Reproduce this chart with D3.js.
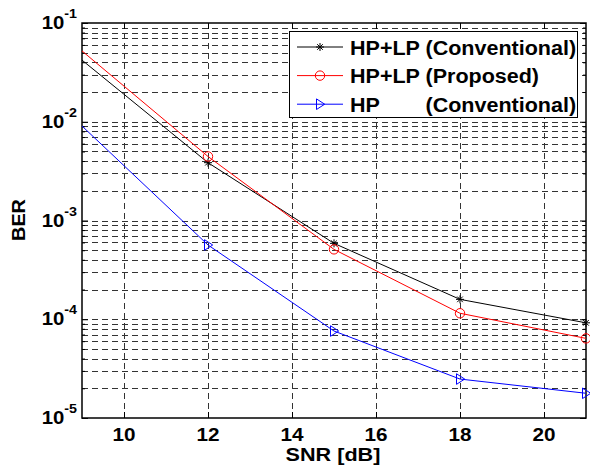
<!DOCTYPE html>
<html><head><meta charset="utf-8">
<script src="https://cdn.jsdelivr.net/npm/d3@7"></script>
<style>
html,body{margin:0;padding:0;background:#fff;}
text{font-family:Arial,"Liberation Sans",Helvetica,sans-serif;font-weight:bold;fill:#000;}
</style></head>
<body><svg id="c" width="590" height="470"></svg>
<script>
// ---- data ----
const snr = [6, 12, 15, 18, 21];
const berConvHPLP = [0.46, 3.85e-3, 5.87e-4, 1.59e-4, 9.2e-5];
const berPropHPLP = [0.61, 4.45e-3, 5.1e-4, 1.15e-4, 6.4e-5];
const berConvHP   = [0.145, 5.65e-4, 7.6e-5, 2.48e-5, 1.78e-5];
const xTicks = [10, 12, 14, 16, 18, 20];
const yDecades = [-5, -4, -3, -2, -1];
const seriesNames = [["HP+LP ", "(Conventional)"], ["HP+LP ", "(Proposed)"], ["HP      ", "(Conventional)"]];
const seriesColors = ["#000000", "#ff0000", "#0000ff"];
const seriesMarkers = ["star", "circle", "triangle"];

const L = 82, T = 23, R = 586, B = 418;
const svg = d3.select("#c");
const x = d3.scaleLinear().domain([9, 21]).range([L, R]);
const y = d3.scaleLog().domain([1e-5, 1e-1]).range([B, T]);

svg.append("rect").attr("x", 0).attr("y", 0).attr("width", 590).attr("height", 470).attr("fill", "#fff");
svg.append("defs").append("clipPath").attr("id", "clip")
  .append("rect").attr("x", L).attr("y", T).attr("width", R - L).attr("height", B - T);

// grid
const minorVals = [];
yDecades.forEach(d => { for (let m = 1; m <= 9; m++) { minorVals.push(m * Math.pow(10, d)); } });
minorVals.push(0.1);
const grid = svg.append("g").attr("stroke", "#333").attr("stroke-width", 1).attr("stroke-dasharray", "6,4").attr("fill", "none");
xTicks.forEach(t => grid.append("line").attr("x1", Math.round(x(t)) + 0.5).attr("x2", Math.round(x(t)) + 0.5).attr("y1", T).attr("y2", B));
minorVals.forEach(v => {
  const yy = Math.round(y(v)) + 0.5;
  if (yy > T + 1 && yy < B - 1) grid.append("line").attr("x1", L).attr("x2", R).attr("y1", yy).attr("y2", yy);
});

// axes via d3 axis (ticks inward)
const xAxisB = d3.axisBottom(x).tickValues(xTicks).tickSizeInner(-6).tickSizeOuter(0).tickFormat("");
const xAxisT = d3.axisTop(x).tickValues(xTicks).tickSizeInner(-6).tickSizeOuter(0).tickFormat("");
svg.append("g").attr("transform", `translate(0,${B})`).call(xAxisB);
svg.append("g").attr("transform", `translate(0,${T})`).call(xAxisT);
const yMinor = minorVals.filter(v => Math.abs(Math.log10(v) - Math.round(Math.log10(v))) > 1e-9);
const yMajor = yDecades.map(d => Math.pow(10, d));
svg.append("g").attr("transform", `translate(${L},0)`).call(d3.axisLeft(y).tickValues(yMajor).tickSizeInner(-6).tickSizeOuter(0).tickFormat(""));
svg.append("g").attr("transform", `translate(${L},0)`).call(d3.axisLeft(y).tickValues(yMinor).tickSizeInner(-3).tickSizeOuter(0).tickFormat(""));
svg.append("g").attr("transform", `translate(${R},0)`).call(d3.axisRight(y).tickValues(yMajor).tickSizeInner(-6).tickSizeOuter(0).tickFormat(""));
svg.append("g").attr("transform", `translate(${R},0)`).call(d3.axisRight(y).tickValues(yMinor).tickSizeInner(-3).tickSizeOuter(0).tickFormat(""));
svg.selectAll(".domain").remove();
svg.selectAll(".tick line").attr("stroke", "#000");

// box
svg.append("rect").attr("x", L).attr("y", T).attr("width", R - L).attr("height", B - T)
  .attr("fill", "none").attr("stroke", "#000").attr("stroke-width", 1.5);

// stretched text helper
function stext(px, py, size, anchor, sx, rot) {
  return svg.append("text").attr("transform", `translate(${px},${py})${rot ? " rotate(" + rot + ")" : ""} scale(${sx},1)`)
    .attr("text-anchor", anchor).attr("font-size", size);
}

// tick labels
xTicks.forEach(t => stext(x(t), 441, 18.5, "middle", 1.12).text(t));
yDecades.forEach(d => {
  const tx = stext(77, y(Math.pow(10, d)) + 6, 18.5, "end", 1.1);
  tx.append("tspan").text("10");
  tx.append("tspan").attr("dy", -11).attr("font-size", 13).text(String(d));
});

// axis labels
stext(333, 461, 18, "middle", 1.2).text("SNR [dB]");
stext(25, 220, 18, "middle", 1.1, -90).text("BER");

// series
const seriesData = [berConvHPLP, berPropHPLP, berConvHP];
const line = d3.line().x(d => x(d[0])).y(d => y(d[1]));
function drawMarker(g, type, cx, cy, color) {
  if (type === "star") {
    const s = 4;
    g.append("path").attr("d", `M${cx - s},${cy}H${cx + s}M${cx},${cy - s}V${cy + s}M${cx - s * 0.7},${cy - s * 0.7}L${cx + s * 0.7},${cy + s * 0.7}M${cx - s * 0.7},${cy + s * 0.7}L${cx + s * 0.7},${cy - s * 0.7}`)
      .attr("stroke", color).attr("stroke-width", 1).attr("fill", "none");
  } else if (type === "circle") {
    g.append("circle").attr("cx", cx).attr("cy", cy).attr("r", 4.7).attr("stroke", color).attr("stroke-width", 1).attr("fill", "none");
  } else {
    g.append("path").attr("d", `M${cx - 3.5},${cy - 5.3}L${cx + 4.7},${cy}L${cx - 3.5},${cy + 5.3}Z`)
      .attr("stroke", color).attr("stroke-width", 1).attr("fill", "none");
  }
}
seriesData.forEach((vals, i) => {
  const pts = snr.map((s, j) => [s, vals[j]]);
  svg.append("path").attr("d", line(pts)).attr("clip-path", "url(#clip)")
    .attr("stroke", seriesColors[i]).attr("stroke-width", 1).attr("fill", "none");
  const g = svg.append("g");
  pts.filter(p => p[0] >= 9 && p[0] <= 21).forEach(p => drawMarker(g, seriesMarkers[i], x(p[0]), y(p[1]), seriesColors[i]));
});

// legend
const lg = svg.append("g");
lg.append("rect").attr("x", 289.5).attr("y", 31.5).attr("width", 288).attr("height", 86)
  .attr("fill", "#fff").attr("stroke", "#000").attr("stroke-width", 1);
let qualX = null;
seriesNames.forEach((n, i) => {
  const cy = 47 + i * 28.6;
  lg.append("line").attr("x1", 297).attr("x2", 343).attr("y1", cy).attr("y2", cy).attr("stroke", seriesColors[i]).attr("stroke-width", 1);
  drawMarker(lg, seriesMarkers[i], 320, cy, seriesColors[i]);
  const t = lg.append("text").attr("transform", `translate(350,${cy + 7.5}) scale(1.05,1)`).attr("font-size", 20.5).style("white-space", "pre");
  const a = t.append("tspan").attr("x", 0).text(n[0]);
  if (qualX === null) qualX = a.node().getComputedTextLength();
  t.append("tspan").attr("x", qualX).text(n[1]);
});
</script></body></html>
